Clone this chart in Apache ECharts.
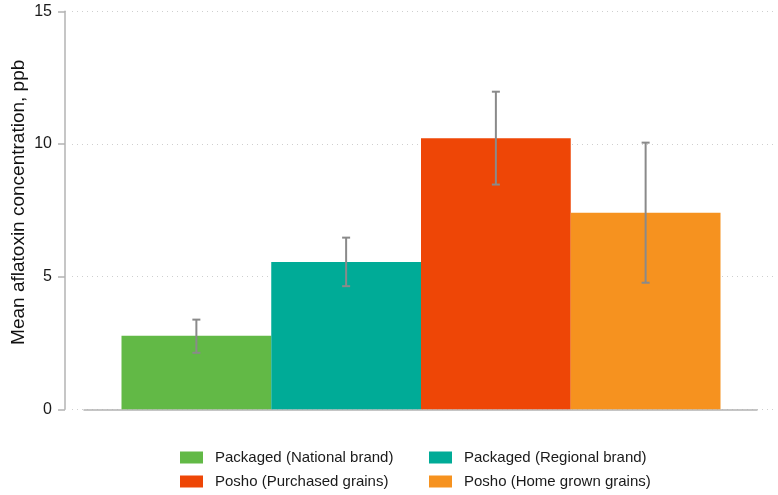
<!DOCTYPE html>
<html>
<head>
<meta charset="utf-8">
<script src="https://cdn.jsdelivr.net/npm/echarts@6/dist/echarts.min.js"></script>
<style>
  html, body { margin: 0; padding: 0; background: #fff; }
  #root { width: 778px; height: 495px; }
</style>
</head>
<body>
<div id="root"></div>
<script>
  // groups shown as bars, left to right
  var categories = [
    'Packaged (National brand)',
    'Packaged (Regional brand)',
    'Posho (Purchased grains)',
    'Posho (Home grown grains)'
  ];
  var meanValues = [2.77, 5.55, 10.22, 7.41];
  var lowerCI = [2.13, 4.64, 8.47, 4.77];
  var upperCI = [3.38, 6.47, 11.97, 10.05];
  var colors = ['#62b946', '#00ab97', '#ee4606', '#f6921f'];
  var yTicks = [0, 5, 10, 15];

  var font = 'Liberation Sans, Arial, sans-serif';

  var barSeries = categories.map(function (name, i) {
    return {
      name: name,
      type: 'bar',
      xAxisIndex: 2,
      yAxisIndex: 2,
      stack: 'all',
      barCategoryGap: '0%',
      barWidth: '100%',
      itemStyle: { color: colors[i] },
      data: meanValues.map(function (v, j) { return j === i ? v : '-'; })
    };
  });

  var errorData = categories.map(function (c, i) {
    return [i, lowerCI[i], upperCI[i]];
  });

  var errorSeries = {
    type: 'custom',
    name: 'ci',
    xAxisIndex: 2,
    yAxisIndex: 2,
    z: 10,
    data: errorData,
    renderItem: function (params, api) {
      var lo = api.coord([api.value(0), api.value(1)]);
      var hi = api.coord([api.value(0), api.value(2)]);
      var half = 4;
      var style = { stroke: '#8a8a8a', lineWidth: 2 };
      return {
        type: 'group',
        children: [
          { type: 'line', shape: { x1: hi[0], y1: hi[1], x2: lo[0], y2: lo[1] }, style: style },
          { type: 'line', shape: { x1: hi[0] - half, y1: hi[1], x2: hi[0] + half, y2: hi[1] }, style: style },
          { type: 'line', shape: { x1: lo[0] - half, y1: lo[1], x2: lo[0] + half, y2: lo[1] }, style: style }
        ]
      };
    }
  };

  var chart = echarts.init(document.getElementById('root'), null, { renderer: 'canvas' });

  var legendText = { fontSize: 15, color: '#1a1a1a', fontFamily: font, padding: [0, 0, 0, 7] };

  var option = {
    animation: false,
    backgroundColor: '#fff',
    textStyle: { fontFamily: font },
    grid: [
      // y axis + dotted grid lines
      { left: 72, right: 2, top: 11.3, bottom: 85.7, outerBoundsMode: 'none' },
      // baseline
      { left: 84, right: 21, top: 11.3, bottom: 85.7, outerBoundsMode: 'none' },
      // bars
      { left: 121.5, right: 57.5, top: 11.3, bottom: 85.7, outerBoundsMode: 'none' }
    ],
    xAxis: [
      { gridIndex: 0, type: 'category', data: [''], show: false },
      {
        gridIndex: 1, type: 'category', data: [''],
        axisLine: { show: true, lineStyle: { color: '#b3b3b3', width: 1.5 } },
        axisTick: { show: false }, axisLabel: { show: false }
      },
      { gridIndex: 2, type: 'category', data: categories, show: false }
    ],
    yAxis: [
      {
        gridIndex: 0,
        type: 'value',
        min: 0, max: 15, interval: 5,
        offset: 7,
        name: 'Mean aflatoxin concentration, ppb',
        nameLocation: 'middle',
        nameGap: 37,
        nameMoveOverlap: false,
        nameTextStyle: { fontSize: 19, color: '#111', fontFamily: font, padding: [0, 0, 0, 16] },
        axisLine: { show: true, lineStyle: { color: '#b3b3b3', width: 1.5 } },
        axisTick: { show: true, length: 7, lineStyle: { color: '#b3b3b3', width: 1.5 } },
        axisLabel: {
          margin: 13, fontSize: 16, color: '#1a1a1a', fontFamily: font,
          formatter: function (v) { return yTicks.indexOf(v) >= 0 ? String(v) : ''; }
        },
        splitLine: { show: true, lineStyle: { color: '#cfcfcf', type: [1, 4], width: 1 } }
      },
      { gridIndex: 1, type: 'value', min: 0, max: 15, show: false },
      { gridIndex: 2, type: 'value', min: 0, max: 15, show: false }
    ],
    legend: [
      {
        orient: 'vertical',
        left: 175, top: 445,
        icon: 'rect',
        itemWidth: 23, itemHeight: 12, itemGap: 9,
        selectedMode: false,
        data: [categories[0], categories[2]],
        textStyle: legendText
      },
      {
        orient: 'vertical',
        left: 424, top: 445,
        icon: 'rect',
        itemWidth: 23, itemHeight: 12, itemGap: 9,
        selectedMode: false,
        data: [categories[1], categories[3]],
        textStyle: legendText
      }
    ],
    series: barSeries.concat([errorSeries])
  };

  chart.setOption(option);
</script>
</body>
</html>
